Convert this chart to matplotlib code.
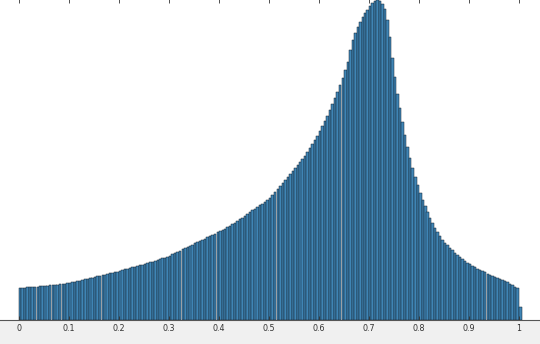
import matplotlib
matplotlib.use("Agg")
import matplotlib.pyplot as plt

# Histogram: bin width 0.005 from 0 to 1, heights are relative counts
bin_width = 0.005
bin_lefts = [round(i * 0.005, 3) for i in range(200)]
counts = [
    # 0.00 - 0.10
    32.0, 32.2, 32.4, 32.6, 32.8, 33.0, 33.2, 33.4, 33.6, 33.8,
    34.0, 34.3, 34.6, 34.9, 35.2, 35.5, 35.8, 36.1, 36.4, 36.8,
    # 0.10 - 0.20
    37.4, 38.0, 38.5, 39.0, 39.5, 40.0, 40.6, 41.2, 41.8, 42.4,
    43.0, 43.6, 44.2, 44.8, 45.4, 46.0, 46.6, 47.2, 47.8, 48.5,
    # 0.20 - 0.30
    49.2, 49.9, 50.6, 51.3, 52.0, 52.7, 53.4, 54.1, 54.8, 55.5,
    56.2, 56.9, 57.6, 58.4, 59.2, 60.0, 60.8, 61.6, 62.4, 63.3,
    # 0.30 - 0.40
    64.5, 65.8, 67.0, 68.2, 69.4, 70.6, 71.8, 73.0, 74.2, 75.4,
    76.6, 77.8, 79.0, 80.2, 81.4, 82.6, 83.8, 85.0, 86.3, 87.6,
    # 0.40 - 0.50
    88.9, 90.2, 91.5, 92.8, 94.2, 95.6, 97.2, 98.8, 100.6, 102.4,
    104.2, 106.0, 107.8, 109.6, 111.4, 113.0, 114.6, 116.2, 118.0, 120.0,
    # 0.50 - 0.60
    122.5, 125.0, 128.0, 131.0, 134.0, 137.0, 140.0, 143.0, 146.0, 149.0,
    152.0, 155.0, 158.0, 161.0, 164.0, 168.0, 172.0, 176.0, 180.0, 184.5,
    # 0.60 - 0.70
    189, 194, 199, 204, 210, 216, 222, 228, 235, 242,
    250, 258, 270, 280, 287, 293, 298, 303, 307, 310,
    # 0.70 - 0.80
    314, 317, 319, 320, 319, 316, 311, 300, 283, 262,
    243, 226, 212, 198, 185, 173, 162, 152, 143, 135,
    # 0.80 - 0.90
    127, 120, 114, 108, 102, 97, 92, 88, 84, 80.5,
    77.5, 75, 72.5, 70, 67.5, 65, 63, 61, 59, 57.5,
    # 0.90 - 1.00
    56, 54.5, 53, 51.5, 50, 48.8, 47.6, 46.4, 45.2, 44,
    43, 42, 41, 40, 39, 38, 36.5, 35, 33.5, 32,
]
# small trailing bin just past 1
extra_left = 1.0
extra_width = 0.006
extra_count = 13

xticks = [0, 0.1, 0.2, 0.3, 0.4, 0.5, 0.6, 0.7, 0.8, 0.9, 1]
xticklabels = ["0", "0.1", "0.2", "0.3", "0.4", "0.5", "0.6", "0.7", "0.8", "0.9", "1"]

fig = plt.figure(figsize=(5.40, 3.44), dpi=100, facecolor="#f0f0f0")
ax = fig.add_axes([0, 24 / 344, 1, 321 / 344])
ax.set_facecolor("white")

face = "#3f85b5"
edge = "#15222e"
ax.bar(bin_lefts, counts, width=bin_width, align="edge",
       color=face, edgecolor=edge, linewidth=0.35)
ax.bar([extra_left], [extra_count], width=extra_width, align="edge",
       color=face, edgecolor=edge, linewidth=0.35)

ax.set_xlim(-19 / 500, 521 / 500)
ax.set_ylim(0, 321)
ax.set_xticks(xticks)
ax.set_xticklabels(xticklabels, fontsize=5.8, color="#333333")
ax.set_yticks([])
ax.tick_params(axis="x", direction="in", length=3, width=0.6, color="#333333",
               top=True, bottom=True, pad=3)
for s in ["left", "right"]:
    ax.spines[s].set_visible(False)
ax.spines["bottom"].set_color("#555555")
ax.spines["bottom"].set_linewidth(0.8)
ax.spines["top"].set_color("#888888")
ax.spines["top"].set_linewidth(0.6)

fig.savefig("out.png", dpi=100, facecolor=fig.get_facecolor())
